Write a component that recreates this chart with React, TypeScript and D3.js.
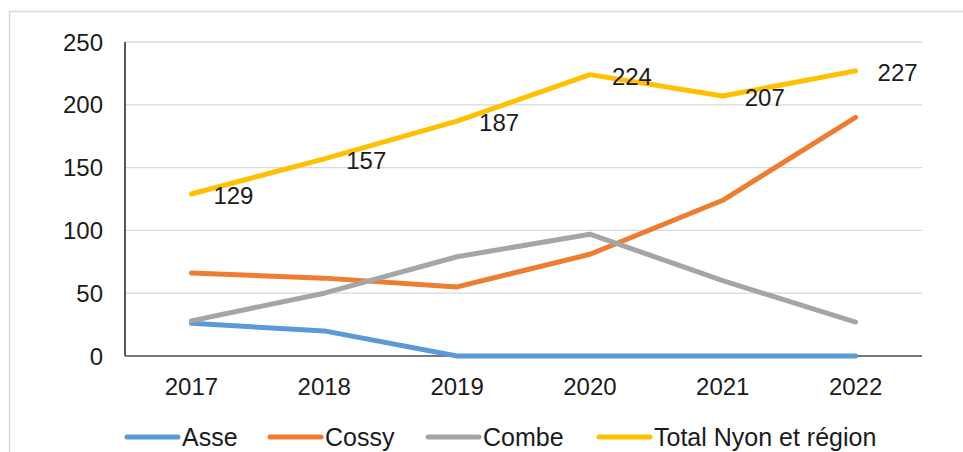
import * as d3 from "d3";

const years = ["2017", "2018", "2019", "2020", "2021", "2022"];
const asse = [26, 20, 0, 0, 0, 0];
const cossy = [66, 62, 55, 81, 124, 190];
const combe = [28, 50, 79, 97, 60, 27];
const total = [129, 157, 187, 224, 207, 227];
const yTicks = [0, 50, 100, 150, 200, 250];

const seriesList = [
  { name: "Asse", values: asse, color: "#5B9BD5" },
  { name: "Cossy", values: cossy, color: "#ED7D31" },
  { name: "Combe", values: combe, color: "#A5A5A5" },
  { name: "Total Nyon et région", values: total, color: "#FFC000" },
];

const W = 963;
const H = 452;
const plot = { x1: 125, x2: 922, y1: 42, y2: 356 };
const font = "Arial, 'Liberation Sans', sans-serif";
const textColor = "#1b1b1b";

export default function App() {
  const x = d3.scaleBand().domain(years).range([plot.x1, plot.x2]);
  const y = d3.scaleLinear().domain([0, 250]).range([plot.y2, plot.y1]);
  const cx = (yr: string) => (x(yr) as number) + x.bandwidth() / 2;

  const line = d3
    .line<number>()
    .x((_, i) => cx(years[i]))
    .y((d) => y(d));

  // legend: line swatch then label, positions
  const legendX = [125, 268, 426, 597];

  return (
    <svg
      width={W}
      height={H}
      style={{ position: "absolute", left: 0, top: 0, background: "#fff" }}
      fontFamily={font}
    >
      {/* chart frame */}
      <rect x={9.5} y={11.5} width={W + 20} height={H + 20} fill="none" stroke="#d9d9d9" strokeWidth={1.5} />

      {/* grid */}
      {yTicks.map((t) => (
        <line key={t} x1={plot.x1} x2={plot.x2} y1={y(t)} y2={y(t)} stroke="#d9d9d9" strokeWidth={1.3} />
      ))}
      {yTicks.map((t) => (
        <text key={"l" + t} x={103} y={y(t)} dy="0.36em" textAnchor="end" fontSize={24} fill={textColor}>
          {t}
        </text>
      ))}

      {/* axes */}
      <line x1={plot.x1} x2={plot.x1} y1={plot.y1} y2={plot.y2} stroke="#222" strokeWidth={1.5} />
      <line x1={plot.x1} x2={plot.x2} y1={plot.y2} y2={plot.y2} stroke="#555" strokeWidth={1.5} />

      {years.map((yr) => (
        <text key={yr} x={cx(yr)} y={386} dy="0.36em" textAnchor="middle" fontSize={24} fill={textColor}>
          {yr}
        </text>
      ))}

      {/* series */}
      {seriesList.map((s) => (
        <path
          key={s.name}
          d={line(s.values) as string}
          fill="none"
          stroke={s.color}
          strokeWidth={5}
          strokeLinecap="round"
          strokeLinejoin="round"
        />
      ))}

      {/* data labels on total */}
      {total.map((v, i) => (
        <text key={"d" + i} x={cx(years[i]) + 22} y={y(v) + 1.5} dy="0.36em" fontSize={24} fill={textColor}>
          {v}
        </text>
      ))}

      {/* legend */}
      {seriesList.map((s, i) => (
        <g key={"lg" + s.name}>
          <line
            x1={legendX[i] + 2}
            x2={legendX[i] + 53}
            y1={437}
            y2={437}
            stroke={s.color}
            strokeWidth={5}
            strokeLinecap="round"
          />
          <text x={legendX[i] + 57} y={437} dy="0.36em" fontSize={25} fill={textColor}>
            {s.name}
          </text>
        </g>
      ))}
    </svg>
  );
}
